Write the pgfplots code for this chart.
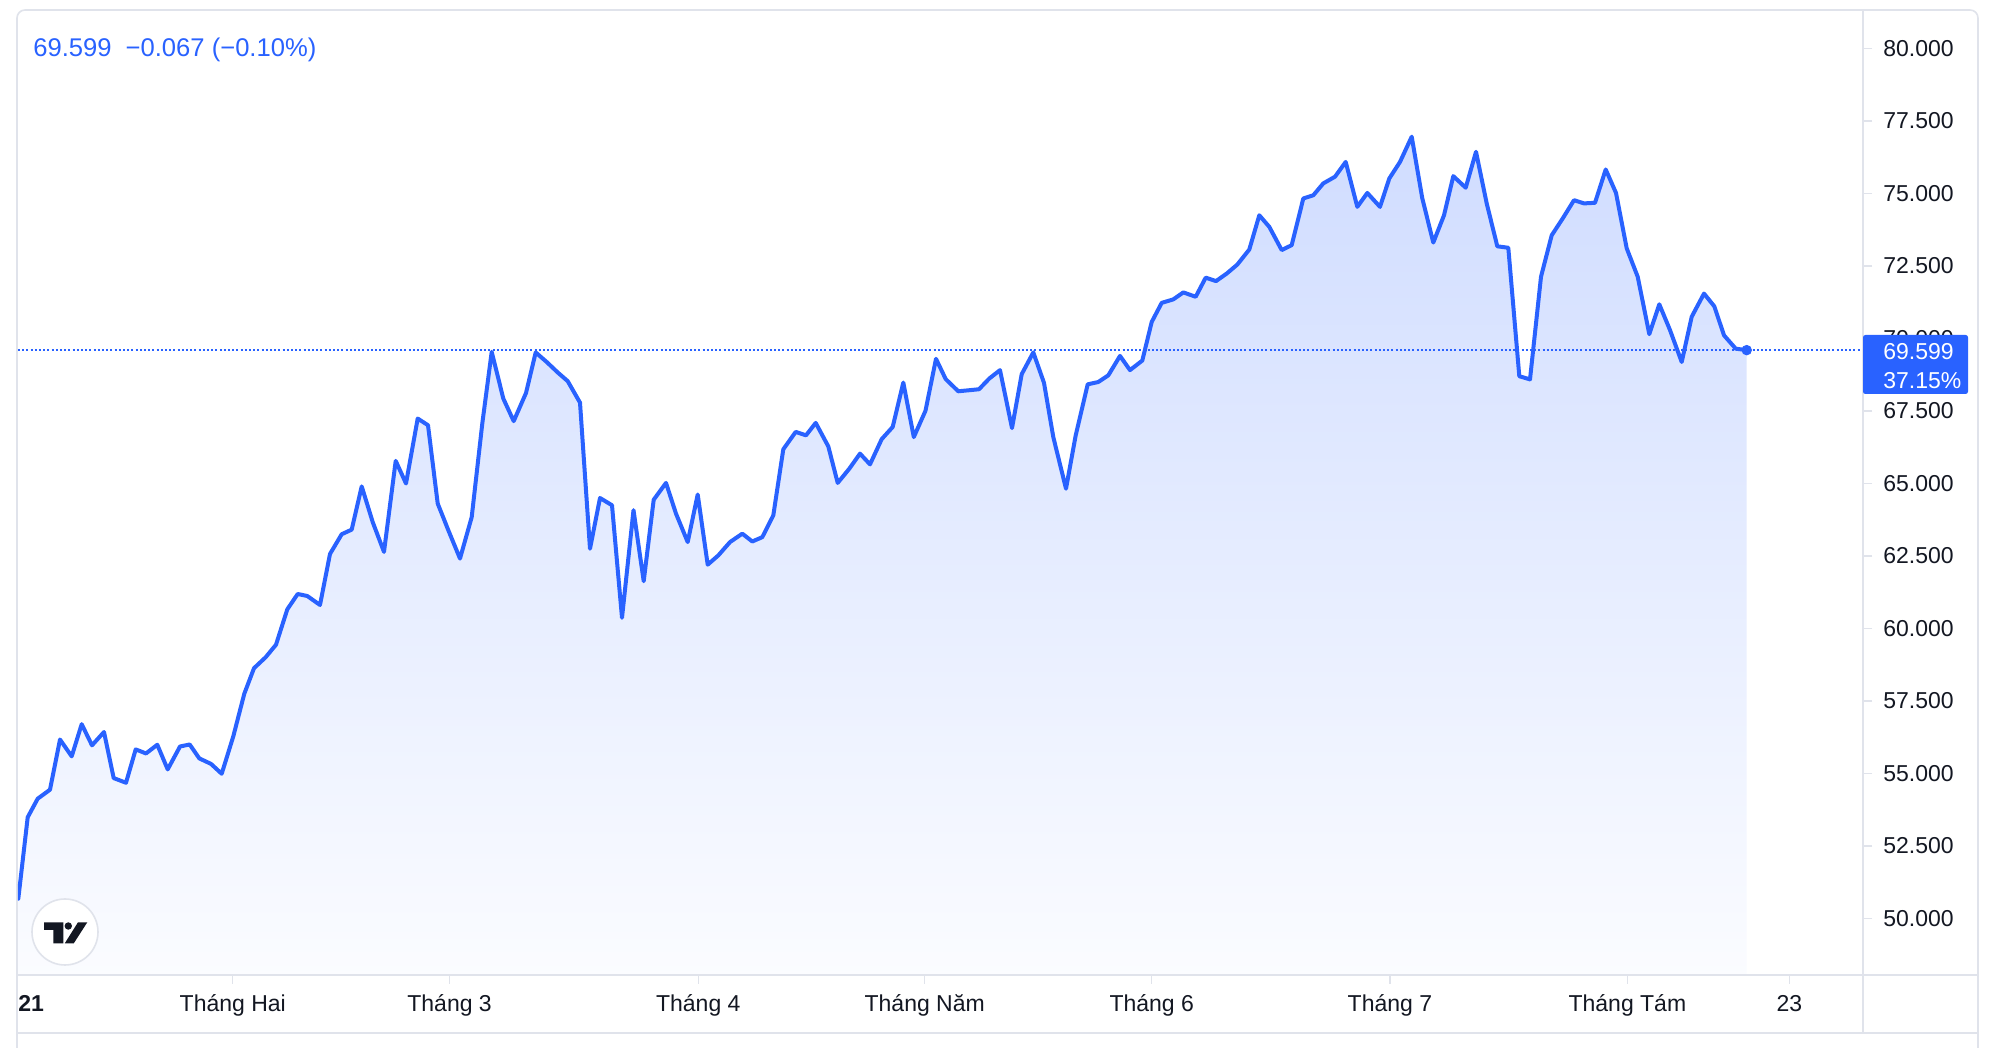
\documentclass[border=0pt]{standalone}
\usepackage{pgfplots}
\pgfplotsset{compat=1.18}
\usepackage{pgfplotstable}
\usepackage{fontspec}
\setmainfont{Liberation Sans}
\definecolor{tvBlue}{RGB}{41,98,255}
\definecolor{tvGrid}{RGB}{224,227,235}
\definecolor{tvText}{RGB}{19,23,34}
\colorlet{fillTop}{tvBlue!22!white}
\colorlet{fillBot}{tvBlue!2!white}

% x = horizontal position of each daily bar, y = price
\pgfplotstableread{
x y
18.3 50.68
27.7 53.49
37.7 54.13
50.0 54.44
60.0 56.17
71.7 55.59
81.7 56.70
92.0 55.97
104.0 56.43
113.7 54.84
126.0 54.68
135.7 55.83
146.0 55.69
157.3 55.99
167.7 55.14
180.0 55.93
189.7 56.00
199.3 55.52
211.0 55.33
221.7 54.99
233.3 56.28
244.3 57.75
254.0 58.63
265.7 59.01
276.0 59.44
287.3 60.66
297.7 61.19
307.3 61.12
320.0 60.81
330.0 62.57
341.7 63.25
351.7 63.41
361.7 64.90
372.7 63.67
384.0 62.64
395.7 65.78
406.0 65.00
417.7 67.24
428.0 67.01
437.7 64.31
448.3 63.39
460.0 62.41
471.7 63.84
482.3 67.07
491.7 69.54
503.3 67.93
513.7 67.15
526.0 68.12
535.7 69.52
546.7 69.19
557.7 68.83
567.7 68.53
580.0 67.79
590.0 62.75
600.0 64.50
612.0 64.25
622.0 60.37
633.5 64.08
643.7 61.63
653.7 64.44
666.0 65.02
676.0 63.96
687.7 62.98
697.7 64.62
707.7 62.20
718.3 62.52
730.0 62.98
742.3 63.27
752.3 63.00
762.3 63.15
773.3 63.90
783.3 66.18
795.7 66.78
806.0 66.66
815.7 67.09
828.3 66.28
837.7 65.02
849.3 65.51
860.0 66.03
870.0 65.66
881.7 66.53
892.7 66.95
903.3 68.48
913.8 66.60
925.5 67.51
936.0 69.30
945.7 68.60
958.3 68.18
979.0 68.25
989.3 68.62
1000.0 68.91
1012.0 66.91
1021.7 68.77
1033.3 69.52
1044.0 68.47
1053.3 66.60
1066.0 64.82
1075.7 66.66
1087.7 68.42
1098.3 68.50
1108.3 68.73
1120.0 69.40
1130.0 68.91
1142.3 69.24
1151.7 70.57
1161.7 71.23
1173.3 71.35
1183.3 71.59
1195.7 71.44
1205.7 72.10
1216.0 71.98
1226.7 72.24
1237.3 72.55
1249.3 73.07
1259.3 74.25
1269.3 73.85
1281.7 73.05
1291.7 73.22
1303.3 74.83
1313.3 74.94
1323.3 75.35
1335.0 75.58
1345.7 76.09
1357.3 74.54
1367.3 75.02
1380.0 74.54
1389.3 75.52
1400.0 76.09
1411.7 76.96
1422.3 74.83
1433.3 73.31
1444.0 74.25
1453.3 75.60
1465.7 75.20
1476.0 76.44
1486.7 74.66
1497.3 73.18
1508.3 73.13
1519.3 68.70
1530.0 68.59
1541.0 72.13
1551.7 73.56
1562.7 74.14
1574.0 74.77
1584.0 74.66
1595.0 74.68
1605.7 75.83
1616.0 75.02
1626.7 73.11
1637.7 72.13
1649.3 70.15
1659.3 71.18
1670.0 70.29
1681.7 69.19
1691.7 70.75
1704.0 71.55
1714.3 71.11
1724.0 70.11
1735.7 69.65
1746.7 69.599
}\pricedata

\begin{document}
\begin{tikzpicture}
\fill[white] (0,0) rectangle (1002pt,524pt);
% outer frame
\draw[tvGrid, line width=0.8pt, rounded corners=4pt] (8.5pt,0pt) -- (8.5pt,519pt) -- (989pt,519pt) -- (989pt,0pt);

\begin{axis}[
  at={(9pt,36.5pt)}, anchor=south west, scale only axis,
  width=922.5pt, height=482.5pt,
  xmin=18, xmax=1863, ymin=48.05, ymax=81.33,
  axis x line*=bottom, axis y line*=right,
  axis line style={draw=none},
  tick align=outside, major tick length=4.5pt,
  tick style={draw=tvGrid, line width=0.6pt},
  xtick={232.8,449.6,698.3,924.7,1151.7,1389.9,1627.4,1789.4},
  xticklabels={Tháng Hai,Tháng 3,Tháng 4,Tháng Năm,Tháng 6,Tháng 7,Tháng Tám,23},
  ytick={50,52.5,55,57.5,60,62.5,65,67.5,70,72.5,75,77.5,80},
  yticklabel={\pgfmathprintnumber[fixed,fixed zerofill,precision=3,assume math mode=true]{\tick}},
  tick label style={font=\fontsize{11.5}{13}\selectfont, text=tvText},
  yticklabel style={anchor=west, inner sep=0pt, xshift=5.5pt},
  xticklabel style={anchor=base, inner sep=0pt, yshift=-14pt},
  clip=true,
]
\addplot[draw=none, top color=fillTop, bottom color=fillBot, forget plot] table[x=x,y=y] {\pricedata}
  -- (axis cs:1746.7,48.05) -- (axis cs:18.3,48.05) -- cycle;
\addplot[tvBlue, line width=0.8pt, dash pattern=on 1pt off 1.1pt, forget plot] coordinates {(18,69.599) (1863,69.599)};
\addplot[tvBlue, line width=2pt, line join=round, line cap=round, forget plot] table[x=x,y=y] {\pricedata};
\addplot[only marks, mark=*, mark size=2.4pt, tvBlue, forget plot] coordinates {(1746.7,69.599)};
\end{axis}

% separators
\draw[tvGrid, line width=0.8pt] (8.5pt,36.5pt) -- (989pt,36.5pt);
\draw[tvGrid, line width=0.8pt] (8.5pt,7.5pt) -- (989pt,7.5pt);
\draw[tvGrid, line width=0.8pt] (931.5pt,7.5pt) -- (931.5pt,519pt);

% price label on the scale
\fill[tvBlue, rounded corners=1.2pt] (931.5pt,327pt) rectangle (984pt,356.5pt);
\node[anchor=base west, inner sep=0pt, text=white, font=\fontsize{11.5}{13}\selectfont] at (941.5pt,344.2pt) {69.599};
\node[anchor=base west, inner sep=0pt, text=white, font=\fontsize{11.5}{13}\selectfont] at (941.5pt,329.8pt) {37.15\%};

% legend text
\node[anchor=base west, inner sep=0pt, text=tvBlue, font=\fontsize{12.8}{15}\selectfont] at (16.5pt,495.6pt) {69.599\hspace{7pt}−0.067 (−0.10\%)};

% first time label
\node[anchor=base west, inner sep=0pt, text=tvText, font=\fontsize{11.5}{13}\selectfont\bfseries] at (9pt,18pt) {21};

% logo
\filldraw[fill=white, draw=tvGrid, line width=0.8pt] (32.5pt,58pt) circle (16.5pt);
\fill[tvText] (22pt,62.85pt) -- (31.65pt,62.85pt) -- (31.65pt,52.35pt) -- (26.65pt,52.35pt) -- (26.65pt,59pt) -- (22pt,59pt) -- cycle;
\fill[tvText] (34.15pt,61pt) circle (1.85pt);
\fill[tvText] (32.4pt,52.35pt) -- (36.9pt,52.35pt) -- (43.65pt,62.85pt) -- (39pt,62.85pt) -- cycle;

\pgfresetboundingbox
\path[use as bounding box] (0,0) rectangle (1002pt,524pt);
\end{tikzpicture}
\end{document}
